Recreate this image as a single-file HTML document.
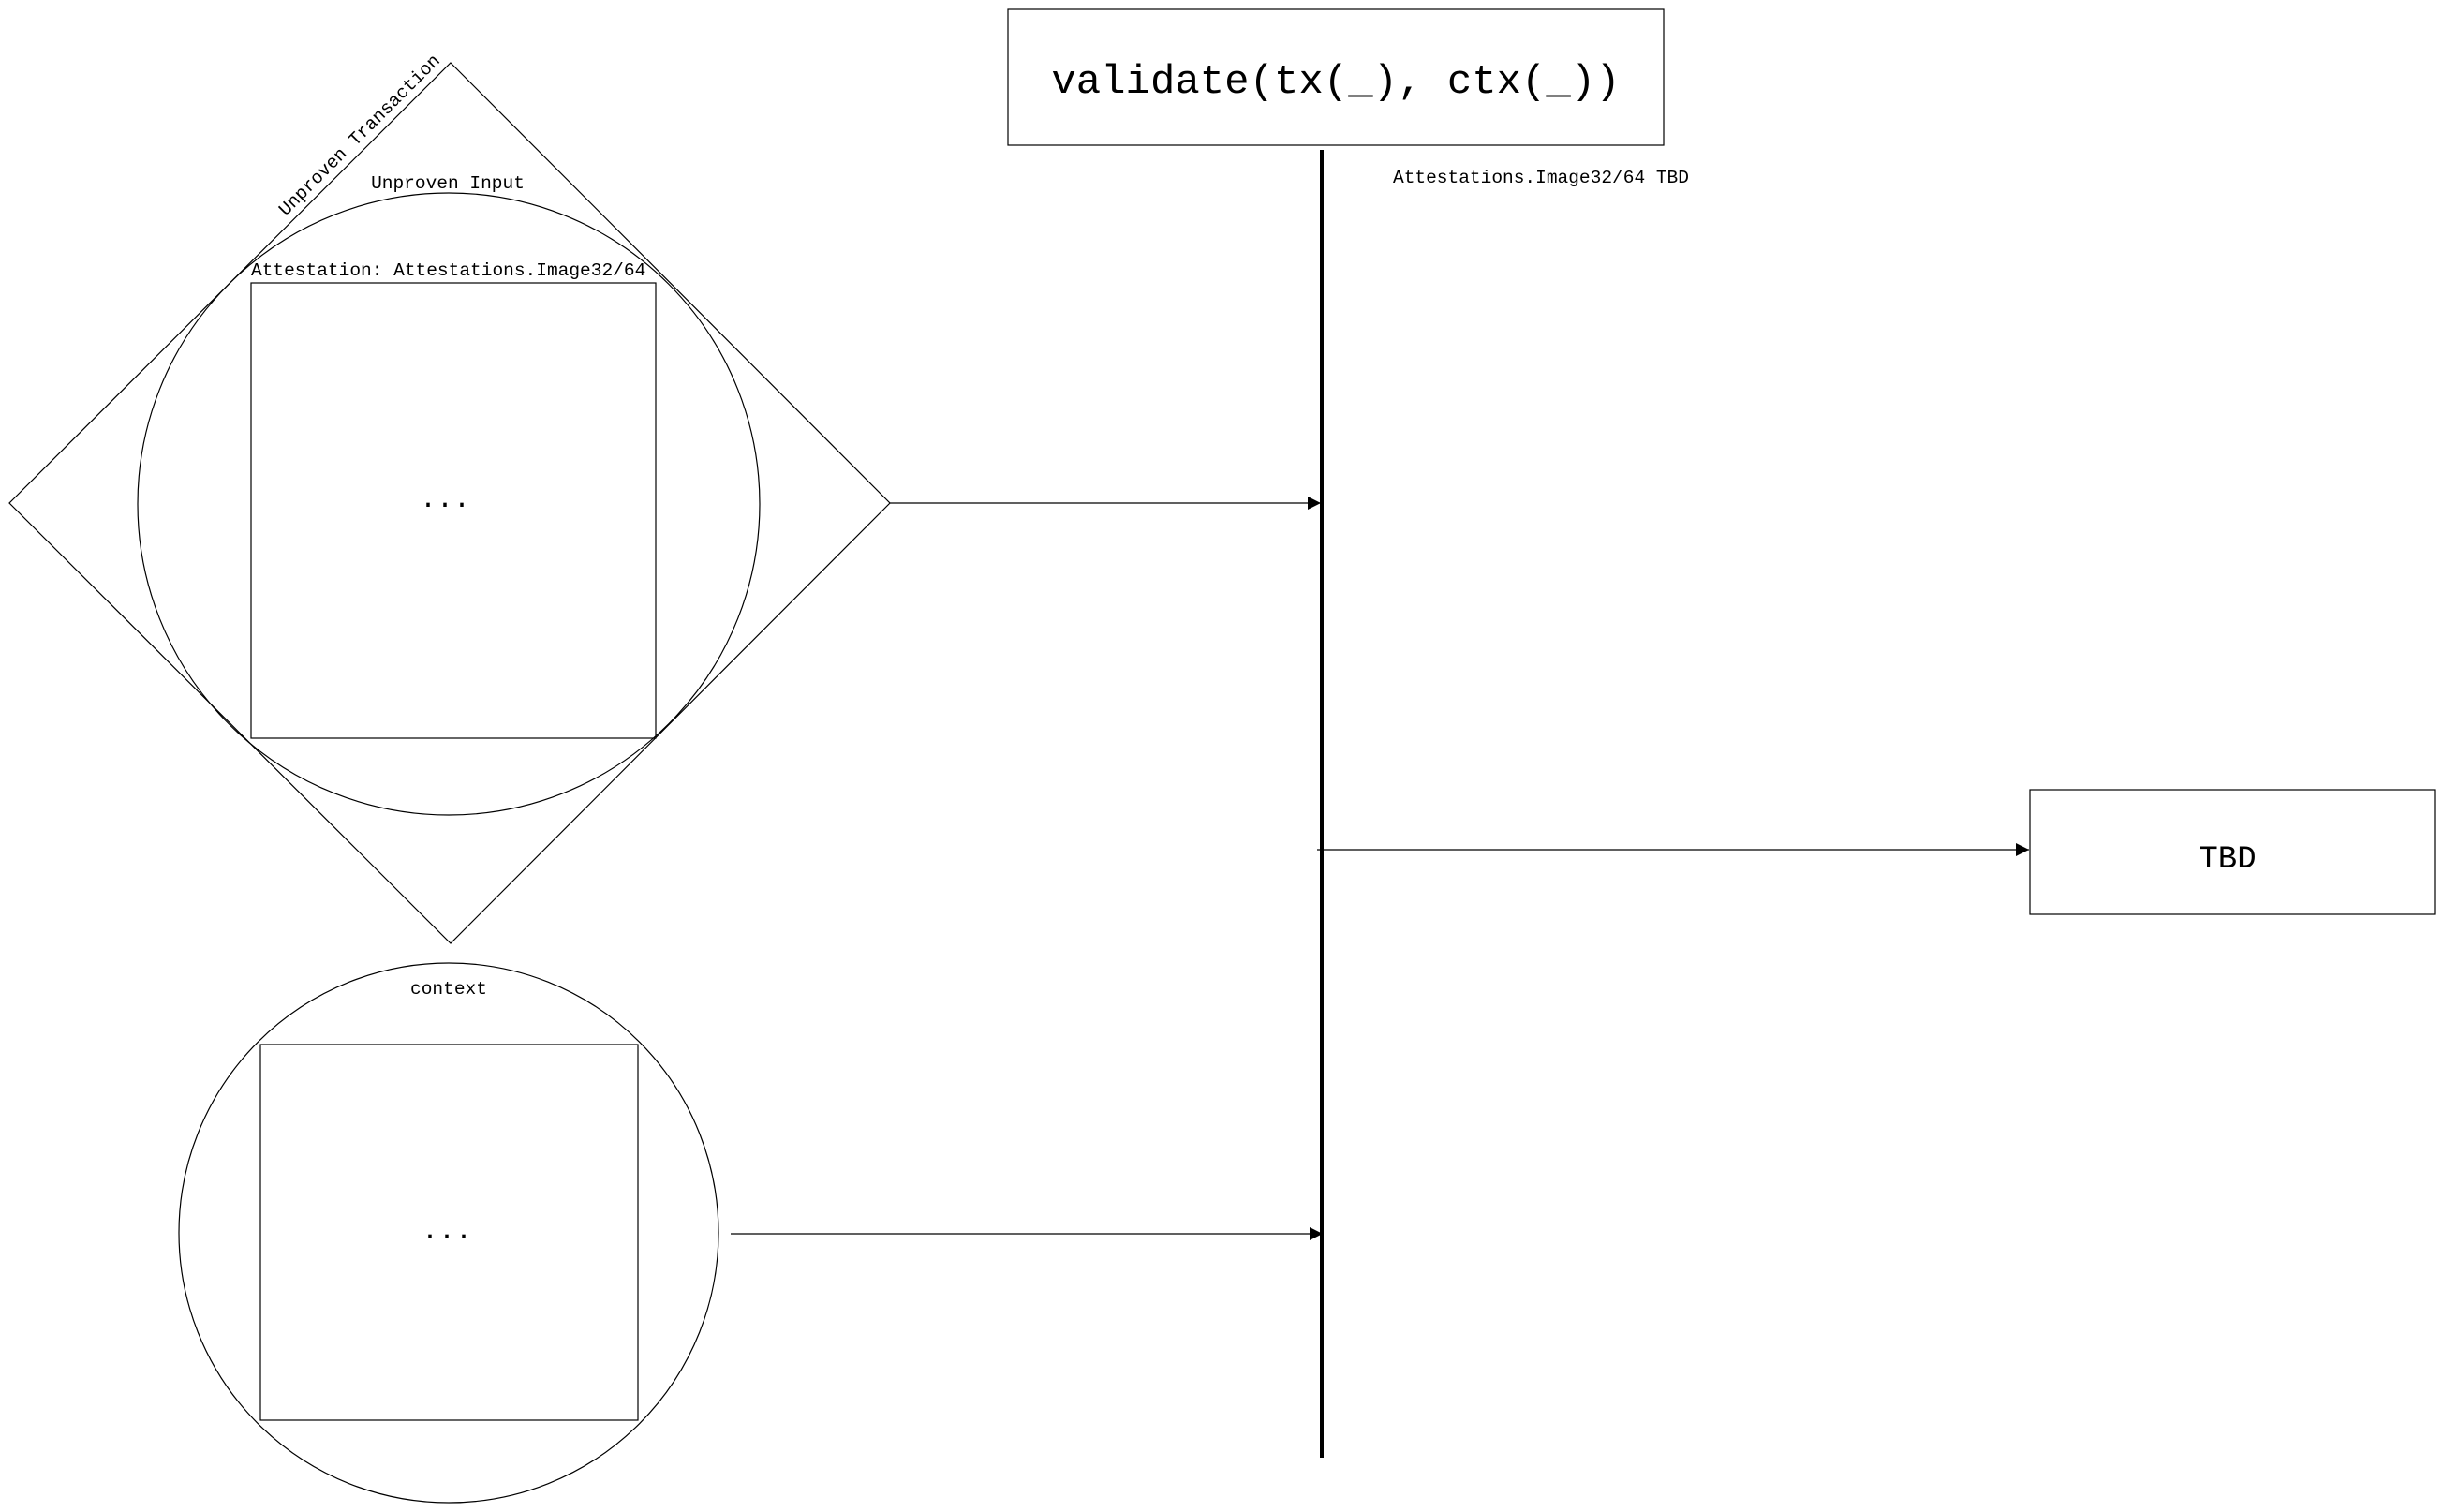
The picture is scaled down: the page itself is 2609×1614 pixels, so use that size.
<!DOCTYPE html>
<html><head><meta charset="utf-8"><style>
html,body{margin:0;padding:0;background:#fff;}
svg{display:block;}
text{font-family:"Liberation Mono","DejaVu Sans Mono",monospace;fill:#000;}
</style></head><body>
<svg width="2609" height="1614" viewBox="0 0 2609 1614" xmlns="http://www.w3.org/2000/svg">
<defs><marker id="a" markerWidth="14" markerHeight="14" refX="14" refY="7" orient="auto" markerUnits="userSpaceOnUse"><path d="M0,0 L14,7 L0,14 z" fill="#000"/></marker></defs>
<g fill="none" stroke="#000" stroke-width="1.2">
<polygon points="481,67 950,537 481,1007 10,537"/>
<circle cx="479" cy="538" r="332"/>
<rect x="268" y="302" width="432" height="486"/>
<circle cx="479" cy="1316" r="288"/>
<rect x="278" y="1115" width="403" height="401"/>
<rect x="1076" y="10" width="700" height="145"/>
<rect x="2167" y="843" width="432" height="133"/>
<line x1="950" y1="537" x2="1410" y2="537" marker-end="url(#a)"/>
<line x1="780" y1="1317" x2="1412" y2="1317" marker-end="url(#a)"/>
<line x1="1406" y1="907" x2="2166" y2="907" marker-end="url(#a)"/>
</g>
<line x1="1411" y1="160" x2="1411" y2="1556" stroke="#000" stroke-width="4"/>
<text x="1426" y="99" font-size="44" text-anchor="middle">validate(tx(_), ctx(_))</text>
<text x="2378" y="926" font-size="34" text-anchor="middle">TBD</text>
<text x="1487" y="195" font-size="19.5">Attestations.Image32/64 TBD</text>
<text x="478" y="201" font-size="19.5" text-anchor="middle">Unproven Input</text>
<text x="268" y="294" font-size="19.5">Attestation: Attestations.Image32/64</text>
<text x="475" y="541" font-size="30" text-anchor="middle">...</text>
<text x="479" y="1061" font-size="19.5" text-anchor="middle">context</text>
<text x="477" y="1322" font-size="30" text-anchor="middle">...</text>
<text x="0" y="0" font-size="19.5" transform="translate(305,231) rotate(-45)">Unproven Transaction</text>
</svg>
</body></html>
